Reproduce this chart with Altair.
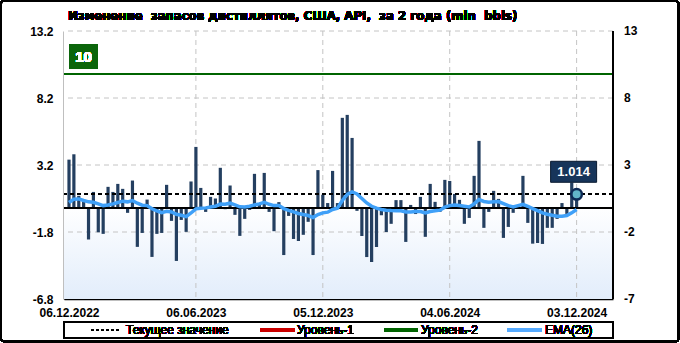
import altair as alt
import pandas as pd

# ---------------- data ----------------
dates = pd.date_range("2022-12-06", periods=105, freq="7D").strftime("%Y-%m-%d").tolist()

values = [
    3.6, 4.0, 0.9, 0.5, -2.36, 1.19, -1.82, -1.94, 1.57, 1.19,
    1.79, 1.42, -0.37, 2.04, -2.91, -1.87, 0.62, -3.66, -1.94, -1.87,
    1.72, -0.97, -3.96, -0.90, -1.79, 1.97, 4.55, 1.49, -0.30, 0.82,
    0.70, 2.99, -0.10, 1.67, -0.52, -2.09, -0.82, -0.15, 2.54, 0.25,
    2.61, -0.30, -1.74, 0.43, -3.52, -0.60, -2.32, -2.47, -2.01, -1.04,
    -3.52, 2.82, 0.98, 0.36, 2.76, 0.36, 6.72, 6.94, 5.22, -0.22,
    -2.10, -3.67, -4.04, -2.92, -0.55, -1.80, -1.19, 0.58, 0.58, -2.54,
    0.22, -0.46, 0.82, -2.16, 1.79, 0.45, -0.30, 2.09, 2.01, 1.04,
    0.60, -1.19, -0.75, 2.39, 5.00, -1.49, -0.30, 1.27, 0.67, -2.24,
    -1.42, -0.37, 0.15, 2.39, -1.12, -2.67, -2.62, -2.69, -1.49, -1.49,
    -0.82, 0.36, -0.45, 1.90, 1.014,
]

ema = [
    0.40, 0.65, 0.67, 0.55, 0.45, 0.42, 0.30, 0.17, 0.22, 0.30,
    0.40, 0.50, 0.45, 0.55, 0.35, 0.20, 0.17, -0.07, -0.22, -0.35,
    -0.25, -0.30, -0.48, -0.55, -0.65, -0.38, -0.07, -0.02, 0.00, 0.06,
    0.12, 0.28, 0.27, 0.35, 0.22, 0.08, 0.07, 0.12, 0.22, 0.30,
    0.42, 0.27, 0.17, 0.17, -0.05, -0.18, -0.30, -0.42, -0.50, -0.57,
    -0.72, -0.50, -0.37, -0.32, -0.12, -0.02, 0.55, 1.00, 1.19, 1.04,
    0.70, 0.37, 0.12, -0.02, -0.12, -0.17, -0.20, -0.22, -0.22, -0.30,
    -0.30, -0.27, -0.27, -0.37, -0.27, -0.22, -0.17, 0.05, 0.17, 0.22,
    0.17, 0.12, 0.07, 0.30, 0.62, 0.48, 0.42, 0.45, 0.47, 0.32,
    0.17, 0.07, 0.17, 0.27, 0.12, -0.05, -0.20, -0.37, -0.47, -0.55,
    -0.62, -0.62, -0.57, -0.37, -0.12,
]

tick_dates = ["2022-12-06", "2023-06-06", "2023-12-05", "2024-06-04", "2024-12-03"]
grid_dates = ["2023-06-06", "2023-12-05", "2024-06-04", "2024-12-03"]
y_ticks = [13.2, 8.2, 3.2, -1.8, -6.8]
right_labels = ["13", "8", "3", "-2", "-7"]
y_min, y_max = -6.8, 13.2
level2 = 10
current = 1.014

title_text = "Изменение\u00a0 запасов дистиллятов, США, API,\u00a0 за 2 года (mln\u00a0 bbls)"
legend_names = ["Текущее значение", "Уровень-1", "Уровень-2", "EMA(26)"]

# ---------------- layout / style ----------------
W, H = 549, 268
FONT = "Liberation Sans"
TFONT = "DejaVu Sans"
BAR = "#243f60"
EMA_C = "#3fa0f8"
GREEN = "#006400"
RED = "#cc0000"
GRID = "#c4c4c4"

df = pd.DataFrame({"date": dates, "value": values, "ema": ema})
last_df = df.tail(1)
ticks_df = pd.DataFrame({"g": y_ticks, "lab": right_labels})


def dt(s):
    y, m, d = (int(p) for p in s.split("-"))
    return alt.DateTime(year=y, month=m, date=d, utc=True)


xscale = alt.Scale(type="utc", domain=[dt("2022-12-06"), dt("2025-01-17")])
yscale = alt.Scale(domain=[y_min, y_max], nice=False, zero=False)

x_axis = alt.Axis(
    values=[dt(d) for d in tick_dates],
    labelExpr="utcFormat(datum.value, '%d.%m.%Y')",
    title=None,
    grid=False,
    ticks=False,
    labelFont=FONT,
    labelFontSize=12,
    labelFontWeight="bold",
    labelColor="#000000",
    labelPadding=8,
    domainColor="#000000",
    domainWidth=1.5,
    labelFlush=False,
    labelOverlap=False,
)

y_axis = alt.Axis(
    values=y_ticks,
    labelExpr="'' + datum.value",
    title=None,
    grid=False,
    ticks=False,
    labelFont=FONT,
    labelFontSize=12,
    labelFontWeight="bold",
    labelColor="#000000",
    labelPadding=11,
    domainColor="#000000",
    domainWidth=1.5,
    labelFlush=False,
    labelOverlap=False,
)

# background gradient of plot area
bg = alt.Chart(df).mark_rect(
    fill=alt.LinearGradient(
        gradient="linear",
        x1=0, y1=0, x2=0, y2=1,
        stops=[
            alt.GradientStop(color="#ffffff", offset=0),
            alt.GradientStop(color="#ffffff", offset=0.65),
            alt.GradientStop(color="#e2edfb", offset=1),
        ],
    )
).encode(x=alt.value(0), x2=alt.value(W), y=alt.value(0), y2=alt.value(H))

# grid lines (carry the axes)
hgrid = alt.Chart(ticks_df.iloc[:-1]).mark_rule(
    color=GRID, strokeDash=[5, 4], strokeWidth=1
).encode(y=alt.Y("g:Q", scale=yscale, axis=y_axis))

vgrid = alt.Chart(pd.DataFrame({"d": grid_dates})).mark_rule(
    color=GRID, strokeDash=[5, 4], strokeWidth=1
).encode(x=alt.X("d:T", scale=xscale, axis=x_axis))

bars = alt.Chart(df).mark_bar(size=3.2, color=BAR).encode(
    x=alt.X("date:T", scale=xscale, title=None),
    y=alt.Y("value:Q", scale=yscale, title=None),
)

zero = alt.Chart(df).mark_rule(color="#000000", strokeWidth=1.5).encode(
    y=alt.datum(0)
)
cur_line = alt.Chart(df).mark_rule(
    color="#000000", strokeWidth=1.3, strokeDash=[4, 3]
).encode(y=alt.datum(current))
lvl2_line = alt.Chart(df).mark_rule(color=GREEN, strokeWidth=2).encode(
    y=alt.datum(level2)
)

ema_line = alt.Chart(df).mark_line(color=EMA_C, strokeWidth=3.5).encode(
    x=alt.X("date:T", scale=xscale, title=None),
    y=alt.Y("ema:Q", scale=yscale, title=None),
)

# right axis (same scale, rounded labels)
r_domain = alt.Chart(df).mark_rule(color="#000000", strokeWidth=1.5).encode(
    x=alt.value(W), y=alt.value(0), y2=alt.value(H)
)
r_labels = alt.Chart(ticks_df).mark_text(
    font=FONT, fontSize=12, fontWeight="bold", align="left", baseline="middle", color="#000000"
).encode(x=alt.value(W + 11), y=alt.Y("g:Q", scale=yscale, title=None), text="lab:N")

# level-2 label box
lvl_box = alt.Chart(df).mark_rect(color="#0b650b").encode(
    x=alt.value(5), x2=alt.value(34), y=alt.value(13), y2=alt.value(38)
)
lvl_txt = alt.Chart(df).mark_text(
    color="#ffffff", font=FONT, fontSize=15, fontWeight="bold", align="center", baseline="middle"
).encode(x=alt.value(19.5), y=alt.value(25.5), text=alt.value(str(level2)))

# last value marker and label
last_box = alt.Chart(last_df).mark_rect(
    fill="#17355a", stroke="#0a1a30", strokeWidth=1,
    xOffset=-26, x2Offset=20, yOffset=-33, y2Offset=-12,
).encode(
    x=alt.X("date:T", scale=xscale, title=None), x2="date:T",
    y=alt.Y("value:Q", scale=yscale, title=None), y2="value:Q",
)
last_txt = alt.Chart(last_df).mark_text(
    color="#ffffff", font=FONT, fontSize=13, fontWeight="bold", dx=-3, dy=-22.5,
    align="center", baseline="middle",
).encode(
    x=alt.X("date:T", scale=xscale, title=None), y=alt.Y("value:Q", scale=yscale, title=None),
    text=alt.Text("value:Q", format=".3f"),
)
last_pt = alt.Chart(last_df).mark_circle(
    size=110, color="#62b6c9", stroke="#0d2a55", strokeWidth=2.5, opacity=1
).encode(
    x=alt.X("date:T", scale=xscale, title=None), y=alt.Y("value:Q", scale=yscale, title=None)
)

# title as text
title = alt.Chart(df).mark_text(
    font=TFONT, fontSize=11.75, fontWeight="bold", align="left", baseline="middle", color="#000000"
).encode(x=alt.value(4), y=alt.value(-15), text=alt.value(title_text))

# outer frame
frame = alt.Chart(df).mark_rect(
    fill=None, stroke="#000000", strokeWidth=1.5, cornerRadius=3
).encode(x=alt.value(-63), x2=alt.value(614.5), y=alt.value(-30), y2=alt.value(310.5))

# legend (manual)
LY = 299
leg_frame = alt.Chart(df).mark_rect(fill=None, stroke="#000000", strokeWidth=1.2).encode(
    x=alt.value(0), x2=alt.value(W), y=alt.value(291), y2=alt.value(307)
)
leg_items = []
sym_specs = [
    (27, 57, "#000000", 1, [3, 2]),
    (196, 231, RED, 2.5, None),
    (320, 354, GREEN, 2.5, None),
    (443, 478, "#55aaff", 4, None),
]
text_x = [62, 233, 357, 481]
for (x1, x2, col, sw, dash), tx, name in zip(sym_specs, text_x, legend_names):
    kw = dict(color=col, strokeWidth=sw)
    if dash:
        kw["strokeDash"] = dash
    leg_items.append(
        alt.Chart(df).mark_rule(**kw).encode(
            x=alt.value(x1), x2=alt.value(x2), y=alt.value(LY)
        )
    )
    leg_items.append(
        alt.Chart(df).mark_text(
            font=FONT, fontSize=12, align="left", baseline="middle", color="#000000"
        ).encode(x=alt.value(tx), y=alt.value(LY), text=alt.value(name))
    )

chart = alt.layer(
    bg, hgrid, vgrid, bars, zero, lvl2_line, cur_line, ema_line, r_domain, r_labels,
    lvl_box, lvl_txt, last_box, last_txt, last_pt, title, frame, leg_frame, *leg_items
).properties(
    width=W,
    height=H,
    padding={"left": 64, "top": 31, "right": 67, "bottom": 44},
    autosize=alt.AutoSizeParams(type="none"),
    background="#ffffff",
).configure_view(stroke=None)

chart.save("out.html", embed_options={"renderer": "svg", "actions": False})
